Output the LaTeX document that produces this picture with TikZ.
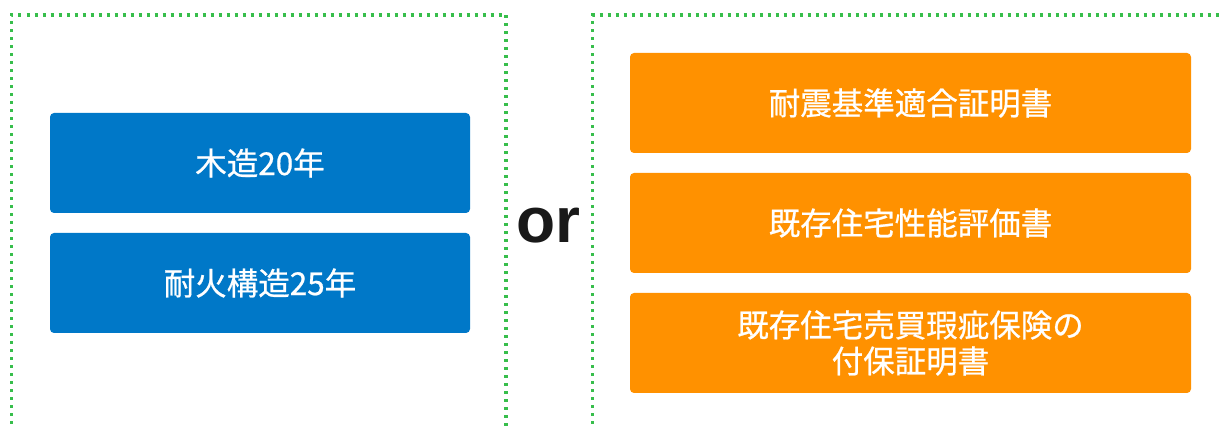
\documentclass[tikz,border=0pt]{standalone}
\usepackage{fontspec}
\newfontfamily\cjk{Noto Sans CJK JP}[FakeBold=0.7]
\newfontfamily\orfont{Liberation Sans}
\definecolor{dotgreen}{RGB}{55,190,75}
\definecolor{boxblue}{RGB}{0,120,200}
\definecolor{boxorange}{RGB}{255,145,0}
\begin{document}
\begin{tikzpicture}[x=1pt,y=-1pt,
  frame/.style={dotgreen,line width=3.2pt,dash pattern=on 3pt off 5pt},
  bluebox/.style={fill=boxblue,rounded corners=4pt,minimum width=420pt,minimum height=100pt,inner sep=0pt,text=white,font=\cjk\fontsize{31.5}{36}\selectfont,align=center},
  orangebox/.style={fill=boxorange,rounded corners=4pt,minimum width=561pt,minimum height=100pt,inner sep=0pt,text=white,font=\cjk\fontsize{31.5}{36}\selectfont,align=center}]
\useasboundingbox (0,0) rectangle (1221,427);
\draw[frame] (11.5,440) -- (11.5,15) -- (506,15) -- (506,440);
\draw[frame] (592.5,440) -- (592.5,15) -- (1230,15);
\node[bluebox] (b1) at (260,163) {木造20年};
\node[bluebox] (b2) at (260,283) {耐火構造25年};
\node[orangebox] (o1) at (910.5,103) {耐震基準適合証明書};
\node[orangebox] (o2) at (910.5,223) {既存住宅性能評価書};
\node[orangebox] (o3) at (910.5,343) {既存住宅売買瑕疵保険の\\付保証明書};
\node[anchor=base,inner sep=0pt,font=\orfont\bfseries\fontsize{64}{70}\selectfont,text=black!90] (or) at (548.5,243) {or};
\end{tikzpicture}
\end{document}
